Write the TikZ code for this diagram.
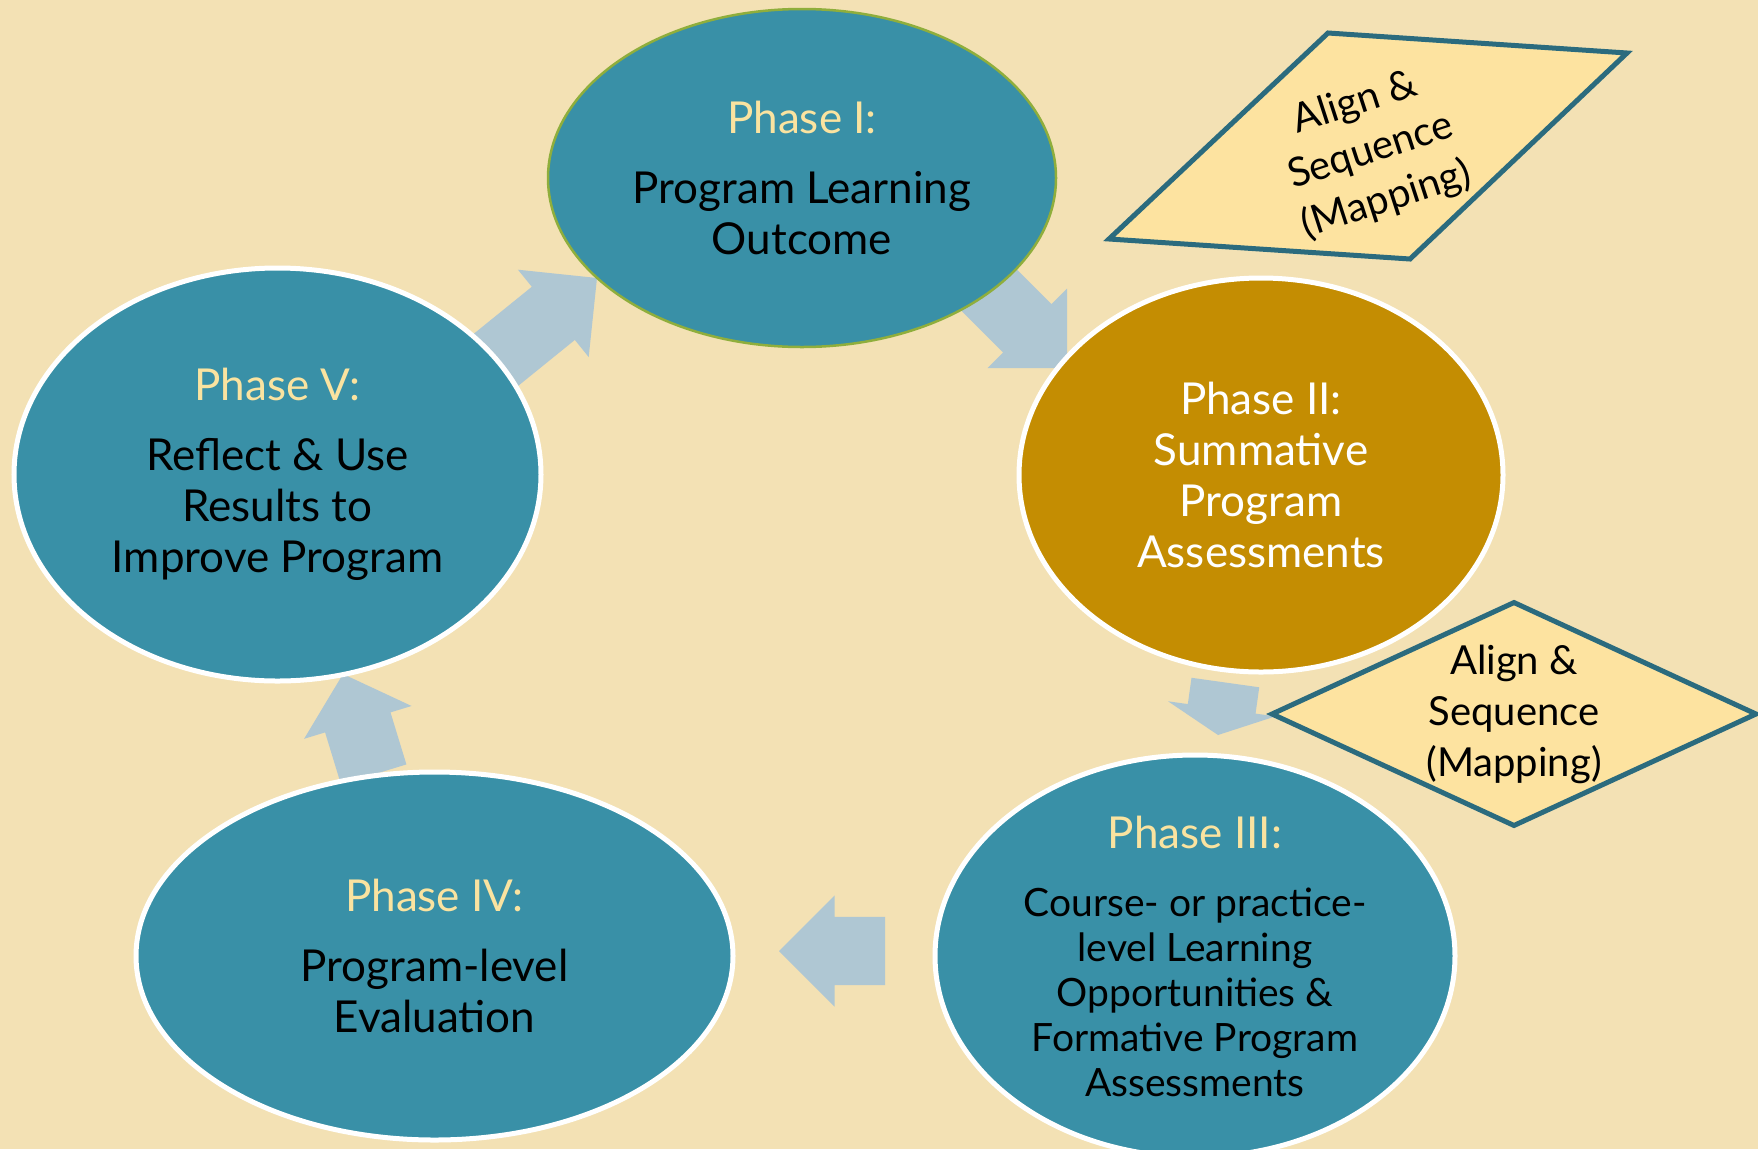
\documentclass[tikz,border=0pt]{standalone}
\usepackage{fontspec}
\setmainfont{Lato}
\usetikzlibrary{shapes.geometric,shapes.arrows}
\definecolor{backbeige}{HTML}{F3E1B4}
\definecolor{phaseteal}{HTML}{3990A7}
\definecolor{phasegold}{HTML}{C48D02}
\definecolor{titleyellow}{HTML}{FAE3A0}
\definecolor{olivering}{HTML}{8FAE3C}
\definecolor{arrowblue}{HTML}{AFC7D3}
\definecolor{mapfill}{HTML}{FDE3A0}
\definecolor{mapedge}{HTML}{2B6B7E}
\newcommand{\phasefont}{\fontsize{44}{51}\selectfont}
\newcommand{\smallphasefont}{\fontsize{39}{45}\selectfont}
\newcommand{\mapfont}{\fontsize{40}{51}\selectfont}
\begin{document}
\begin{tikzpicture}[x=1pt,y=-1pt,
        phase/.style={ellipse, fill=phaseteal, draw=white, line width=5, inner sep=0, align=center, font=\phasefont},
        flowarrow/.style={single arrow, fill=arrowblue, inner xsep=0, inner ysep=34, outer sep=0, anchor=tip,
            single arrow head extend=22, single arrow tip angle=90, minimum width=0},
        mapbox/.style={fill=mapfill, draw=mapedge, line width=5, line join=miter},
        maptext/.style={align=center, font=\mapfont}]
            \fill[backbeige] (0,0) rectangle (1758,1149);
            \useasboundingbox (0,0) rectangle (1758,1149);
            \node[flowarrow, minimum height=132, rotate=-45] (a12) at (1067,368) {};
            \node[flowarrow, minimum height=53, rotate=-98, single arrow head extend=20, single arrow tip angle=128] (a23) at (1218,735) {};
            \node[flowarrow, minimum height=106, rotate=180, single arrow head extend=21.5] (a34) at (779,951) {};
            \node[flowarrow, minimum height=105, rotate=107, single arrow tip angle=96] (a45) at (343,674) {};
            \node[flowarrow, minimum height=131, rotate=39] (a51) at (597,278) {};
            \node[phase, draw=olivering, line width=2.5, minimum width=508, minimum height=338] (p1) at (802,178)
                {\textcolor{titleyellow}{Phase I:}\\[19pt]Program Learning\\Outcome};
            \node[phase, fill=phasegold, text=white, minimum width=484, minimum height=394] (p2) at (1261,475)
                {Phase II:\\Summative\\Program\\Assessments};
            \node[phase, font=\smallphasefont, minimum width=520, minimum height=402] (p3) at (1195,956)
                {{\phasefont\textcolor{titleyellow}{Phase III:}}\\[23pt]Course- or practice-\\level Learning\\Opportunities \&\\Formative Program\\Assessments};
            \node[phase, minimum width=597, minimum height=368] (p4) at (434.5,956)
                {\textcolor{titleyellow}{Phase IV:}\\[19pt]Program-level\\Evaluation};
            \node[phase, minimum width=527, minimum height=413] (p5) at (277.5,474.5)
                {\textcolor{titleyellow}{Phase V:}\\[19pt]Reflect \& Use\\Results to\\Improve Program};
            \draw[mapbox] (1328,33) -- (1627,53) -- (1410,259) -- (1109,239) -- cycle;
            \node[maptext, rotate=18] (map1) at (1371,152) {Align \&\\Sequence\\(Mapping)};
            \node[diamond, mapbox, minimum width=486, minimum height=225, inner sep=0] (map2) at (1514,714) {};
            \node[maptext] (map2text) at (map2.center) {Align \&\\Sequence\\(Mapping)};
\end{tikzpicture}
\end{document}
